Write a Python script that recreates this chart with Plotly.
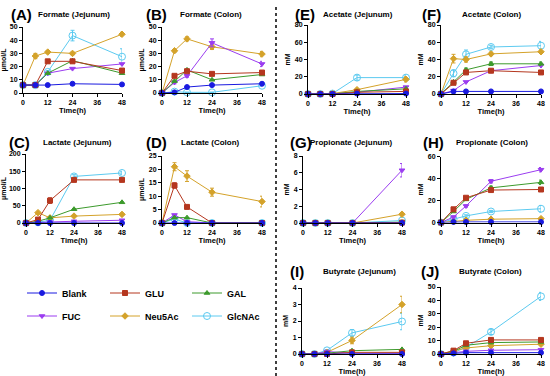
import plotly.graph_objects as go

W, H = 550, 376
times = [0, 6, 12, 24, 48]
series_names = ["Blank", "GLU", "GAL", "FUC", "Neu5Ac", "GlcNAc"]
colors = {"Blank": "#1a1ae0", "GLU": "#b5371f", "GAL": "#3c9a2c",
          "FUC": "#9b3df0", "Neu5Ac": "#d4a22a", "GlcNAc": "#5ccaf0"}
symbols = {"Blank": "circle", "GLU": "square", "GAL": "triangle-up",
           "FUC": "triangle-down", "Neu5Ac": "diamond", "GlcNAc": "circle-open"}

# ---------------- data ----------------
formate_jejunum = {
    "Blank": [6, 6, 6, 7, 6.5], "GLU": [6, 6, 24, 24, 17], "GAL": [6, 6, 15, 24.5, 15],
    "FUC": [6, 6, 15, 18.5, 22], "Neu5Ac": [6, 28, 31, 30, 44.5], "GlcNAc": [6, 6, 16, 43.5, 27.5]}
formate_jejunum_err = {"Neu5Ac": [0, 2, 1, 1, 1.5], "GlcNAc": [0, 0, 1, 4, 6], "GLU": [0, 0, 1, 1, 1.5]}

formate_colon = {
    "Blank": [0, 0.5, 4.5, 6, 7], "GLU": [0, 13, 16.5, 14.5, 15.5], "GAL": [0, 9, 17.5, 10, 14],
    "FUC": [0, 8, 13, 38, 22], "Neu5Ac": [0, 32, 41, 35, 29.5], "GlcNAc": [0, 1, 0.5, 0.5, 5.5]}
formate_colon_err = {"FUC": [0, 1, 1, 3, 2], "Neu5Ac": [0, 1, 1.5, 2, 2], "GLU": [0, 1, 1, 1, 1.5]}

lactate_jejunum = {
    "Blank": [0, 0, 0, 0, 0], "GLU": [0, 10, 65, 125, 125], "GAL": [0, 5, 15, 40, 60],
    "FUC": [0, 2, 3, 5, 8], "Neu5Ac": [0, 30, 15, 20, 25], "GlcNAc": [0, 2, 8, 135, 145]}
lactate_jejunum_err = {"GLU": [0, 0, 8, 5, 5], "GlcNAc": [0, 0, 0, 5, 5]}

lactate_colon = {
    "Blank": [0, 0, 0, 0, 0], "GLU": [0, 14, 6, 0, 0], "GAL": [0, 2, 2, 0, 0],
    "FUC": [0, 3, 0.5, 0, 0], "Neu5Ac": [0, 21, 17.5, 11.5, 8], "GlcNAc": [0, 1.5, 0, 0, 0]}
lactate_colon_err = {"Neu5Ac": [0, 1.5, 2, 1.5, 2], "GLU": [0, 1, 0.5, 0, 0]}

acetate_jejunum = {
    "Blank": [0, 0, 0, 0.5, 0.5], "GLU": [0, 0, 0, 2, 3], "GAL": [0, 0, 0, 3, 6],
    "FUC": [0, 0, 0, 2, 8], "Neu5Ac": [0, 0, 0.5, 5, 17], "GlcNAc": [0, 0, 0.5, 19, 19]}
acetate_jejunum_err = {"GlcNAc": [0, 0, 0, 3, 3], "Neu5Ac": [0, 0, 0, 1, 3]}

acetate_colon = {
    "Blank": [0, 3, 3, 3, 3], "GLU": [0, 13, 25, 27, 25], "GAL": [0, 14, 28, 35, 35],
    "FUC": [0, 4, 14, 27, 33], "Neu5Ac": [0, 41, 40, 46.5, 49], "GlcNAc": [0, 24, 46, 54.5, 56]}
acetate_colon_err = {"Neu5Ac": [0, 5, 3, 2, 2], "GlcNAc": [0, 4, 5, 2, 5], "GAL": [0, 1, 2, 2, 2]}

propionate_jejunum = {
    "Blank": [0, 0, 0, 0, 0], "GLU": [0, 0, 0, 0, 0.05], "GAL": [0, 0, 0, 0, 0.1],
    "FUC": [0, 0, 0, 0, 6.3], "Neu5Ac": [0, 0, 0, 0, 1.05], "GlcNAc": [0, 0, 0, 0, 0.3]}
propionate_jejunum_err = {"FUC": [0, 0, 0, 0, 0.8], "Neu5Ac": [0, 0, 0, 0, 0.2]}

propionate_colon = {
    "Blank": [0, 0.5, 0.5, 0.5, 0.5], "GLU": [0, 12, 22.5, 29.5, 30], "GAL": [0, 10, 21, 31.5, 36.5],
    "FUC": [0, 5, 15, 37.5, 48], "Neu5Ac": [0, 1, 2, 3, 3.5], "GlcNAc": [0, 3, 6, 10, 12.5]}
propionate_colon_err = {"FUC": [0, 0, 1, 1.5, 2], "GAL": [0, 0, 1, 1.5, 2], "GlcNAc": [0, 0, 1, 1, 3]}

butyrate_jejunum = {
    "Blank": [0, 0, 0, 0, 0], "GLU": [0, 0, 0, 0.1, 0.1], "GAL": [0, 0, 0.05, 0.2, 0.28],
    "FUC": [0, 0, 0.15, 0.05, 0.05], "Neu5Ac": [0, 0, 0.1, 0.82, 3.0], "GlcNAc": [0, 0, 0.22, 1.28, 1.97]}
butyrate_jejunum_err = {"Neu5Ac": [0, 0, 0, 0.2, 0.5], "GlcNAc": [0, 0, 0.05, 0.2, 0.5]}

butyrate_colon = {
    "Blank": [0, 0.5, 1, 1, 1], "GLU": [0, 2.5, 8, 10.5, 10.5], "GAL": [0, 2, 6.5, 8.5, 9],
    "FUC": [0, 1, 2, 2.8, 3.2], "Neu5Ac": [0, 2, 4.5, 6.2, 7.3], "GlcNAc": [0, 1, 5, 16.5, 43]}
butyrate_colon_err = {"GlcNAc": [0, 0, 0.5, 2, 3], "GLU": [0, 0, 0.5, 1, 1]}

x_ticks = [0, 12, 24, 36, 48]

# panel: (letter, title, data, err, ytitle, ymax, dtick, x-left px, x-right px, y-top px, y-bottom px)
panels = [
    ("(A)", "Formate (Jejunum)", formate_jejunum, formate_jejunum_err, "μmol/L", 50, 10, 23, 122, 27, 93),
    ("(B)", "Formate (Colon)", formate_colon, formate_colon_err, "μmol/L", 50, 10, 162, 262, 27, 93),
    ("(C)", "Lactate (Jejunum)", lactate_jejunum, lactate_jejunum_err, "μmol/L", 200, 50, 26, 122, 154, 223),
    ("(D)", "Lactate (Colon)", lactate_colon, lactate_colon_err, "μmol/L", 25, 5, 162, 262, 156, 223),
    ("(E)", "Acetate (Jejunum)", acetate_jejunum, acetate_jejunum_err, "mM", 80, 20, 308, 406, 25, 94),
    ("(F)", "Acetate (Colon)", acetate_colon, acetate_colon_err, "mM", 80, 20, 441, 541, 25, 94),
    ("(G)", "Propionate (Jejunum)", propionate_jejunum, propionate_jejunum_err, "mM", 8, 2, 303, 402, 156, 223),
    ("(H)", "Propionate (Colon)", propionate_colon, propionate_colon_err, "mM", 60, 20, 441, 541, 156.5, 222.5),
    ("(I)", "Butyrate (Jejunum)", butyrate_jejunum, butyrate_jejunum_err, "mM", 4, 1, 302, 402, 288, 354),
    ("(J)", "Butyrate (Colon)", butyrate_colon, butyrate_colon_err, "mM", 50, 10, 441, 541, 287, 354),
]
# title positions (px): letter x-center, title x-center, y
title_pos = [(21, 74, 14), (156, 211, 14), (19, 77, 142), (156, 210, 142), (305, 358, 15),
             (431, 491, 15), (301, 351, 142), (433, 492, 142), (297, 359, 271), (430, 490, 271)]
legend_pos = {"Blank": (42, 293), "GLU": (125, 293), "GAL": (207, 293),
              "FUC": (42, 316), "Neu5Ac": (125, 316), "GlcNAc": (207, 316)}

FONT = "Arial, 'Liberation Sans', sans-serif"
fig = go.Figure()
layout = dict(width=W, height=H, margin=dict(l=0, r=0, t=0, b=0, autoexpand=False), plot_bgcolor="white",
              paper_bgcolor="white", font=dict(family=FONT, color="black"), annotations=[], shapes=[])

draw_order = ["GlcNAc", "Neu5Ac", "FUC", "GAL", "GLU", "Blank"]
for i, (letter, title, data, err, ytitle, ymax, dtick, xl, xr, yt, yb) in enumerate(panels):
    k = "" if i == 0 else str(i + 1)
    for s in draw_order:
        e = err.get(s, [0] * len(times))
        li = series_names.index(s)
        fig.add_trace(go.Scatter(
            x=times, y=data[s], name=s, mode="lines+markers",
            xaxis="x" + k, yaxis="y" + k, cliponaxis=False,
            line=dict(color=colors[s], width=1),
            marker=dict(symbol=symbols[s], color=colors[s], size=7 if s == "GlcNAc" else 5,
                        line=dict(color=colors[s], width=1)),
            error_y=dict(type="data", array=e, visible=True, color=colors[s], thickness=1, width=2),
            showlegend=(i == 0), legend="legend" if li == 0 else "legend%d" % (li + 1)))
    axcommon = dict(showline=True, linecolor="black", linewidth=1, ticks="outside", ticklen=3,
                    tickwidth=1, tickcolor="black", showgrid=False, zeroline=False, automargin=False,
                    tickfont=dict(size=7, family=FONT, weight="bold"))
    layout["xaxis" + k] = dict(domain=[xl / W, xr / W], range=[0, 48], tickvals=x_ticks,
                               anchor="y" + k,
                               title=dict(text="Time(h)", font=dict(size=7.5, weight="bold"), standoff=1),
                               **axcommon)
    layout["yaxis" + k] = dict(domain=[1 - yb / H, 1 - yt / H], range=[0, ymax], dtick=dtick,
                               anchor="x" + k,
                               title=dict(text=ytitle, font=dict(size=7, weight="bold"), standoff=3),
                               **axcommon)
    lx, tx, ty = title_pos[i]
    layout["annotations"].append(dict(text=letter, x=lx / W, y=1 - ty / H, xref="paper", yref="paper",
                                      xanchor="center", yanchor="middle",
                                      showarrow=False, font=dict(size=15, weight="bold")))
    layout["annotations"].append(dict(text=title, x=tx / W, y=1 - ty / H, xref="paper", yref="paper",
                                      xanchor="center", yanchor="middle",
                                      showarrow=False, font=dict(size=8, weight="bold")))

for li, s in enumerate(series_names):
    px, py = legend_pos[s]
    key = "legend" if li == 0 else "legend%d" % (li + 1)
    layout[key] = dict(x=(px - 20) / W, y=1 - py / H, xanchor="left", yanchor="middle",
                       bgcolor="rgba(0,0,0,0)", font=dict(size=9, weight="bold", family=FONT),
                       itemwidth=30)

layout["shapes"].append(dict(type="line", xref="paper", yref="paper", x0=276 / W, x1=276 / W,
                             y0=0, y1=1 - 4 / H, line=dict(color="black", width=1.5, dash="3px,3px")))
fig.update_layout(**layout)
fig.write_html("out.html", config={"displayModeBar": False},
               post_script="document.body.style.margin='0';")
